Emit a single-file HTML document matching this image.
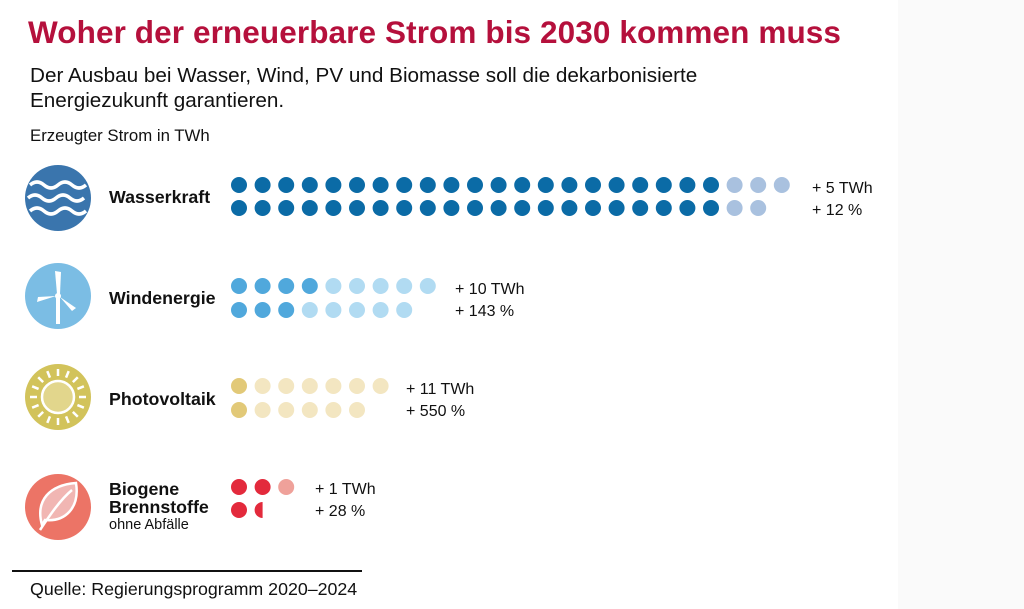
<!DOCTYPE html>
<html><head><meta charset="utf-8"><style>
body{margin:0;width:1024px;height:609px;background:#fff;font-family:"Liberation Sans",Arial,sans-serif;position:relative;overflow:hidden}
.strip{position:absolute;left:898px;top:0;width:126px;height:609px;background:#fafafa}
.t{position:absolute;white-space:nowrap;color:#111}
</style></head><body>
<div class="strip"></div>
<div class="t" style="left:28px;top:14px;font-size:31.5px;font-weight:bold;color:#b5103c;letter-spacing:0.1px">Woher der erneuerbare Strom bis 2030 kommen muss</div>
<div class="t" style="left:30px;top:63px;font-size:20.7px;line-height:25px">Der Ausbau bei Wasser, Wind, PV und Biomasse soll die dekarbonisierte<br>Energiezukunft garantieren.</div>
<div class="t" style="left:30px;top:126px;font-size:16.8px">Erzeugter Strom in TWh</div>
<div class="t" style="left:109px;top:187px;font-size:17.8px;font-weight:bold">Wasserkraft</div>
<div class="t" style="left:109px;top:288px;font-size:17.8px;font-weight:bold">Windenergie</div>
<div class="t" style="left:109px;top:389px;font-size:17.8px;font-weight:bold">Photovoltaik</div>
<div class="t" style="left:109px;top:480px;font-size:17.8px;font-weight:bold;line-height:18px">Biogene<br>Brennstoffe</div>
<div class="t" style="left:109px;top:517px;font-size:14.5px">ohne Abfälle</div>
<div class="t" style="left:812px;top:178px;font-size:16px;line-height:22px">+ 5 TWh<br>+ 12 %</div>
<div class="t" style="left:455px;top:279px;font-size:16px;line-height:22px">+ 10 TWh<br>+ 143 %</div>
<div class="t" style="left:406px;top:379px;font-size:16px;line-height:22px">+ 11 TWh<br>+ 550 %</div>
<div class="t" style="left:315px;top:479px;font-size:16px;line-height:22px">+ 1 TWh<br>+ 28 %</div>
<div style="position:absolute;left:12px;top:570px;width:350px;height:2px;background:#111"></div>
<div class="t" style="left:30px;top:579px;font-size:17.8px">Quelle: Regierungsprogramm 2020–2024</div>
<svg width="1024" height="609" style="position:absolute;left:0;top:0">
<g id="dots"></g>
<circle cx="58" cy="198" r="33" fill="#3a75ad"/>
<g fill="none" stroke="#fff" stroke-width="3.5">
<path d="M30 185 q7 -6 14 0 t14 0 t14 0 t14 0"/>
<path d="M28 198 q7 -6 14 0 t14 0 t14 0 t14 0"/>
<path d="M30 211 q7 -6 14 0 t14 0 t14 0 t14 0"/>
</g>
<circle cx="58" cy="296" r="33" fill="#7bbde4"/>
<g fill="#fff"><rect x="56" y="297" width="4" height="27"/><circle cx="58" cy="296" r="3"/>
<path d="M57 294 L55 271 L61 272 L60 294Z"/><path d="M56 296 L37 302 L38 297Z"/><path d="M60 297 L76 308 L72 311Z"/></g>
<circle cx="58" cy="397" r="33" fill="#d2c35b"/>
<circle cx="58" cy="397" r="16" fill="#e2d68c" stroke="#fff" stroke-width="2.5"/>
<g stroke="#fff" stroke-width="2.5" id="rays"></g>
<circle cx="58" cy="507" r="33" fill="#ec7466"/>
<path d="M42 525 C35 500 50 485 76 483 C80 508 65 522 45 520Z" fill="#f1b6b3" stroke="#fff" stroke-width="2.5"/>
<path d="M40 530 C50 515 60 500 72 490" stroke="#fff" stroke-width="2.5" fill="none"/>
</svg>
<script>
var g=document.getElementById('dots'),s='';
function row(y,x0,n,dk,c1,c2){for(var i=0;i<n;i++){s+='<circle cx="'+(x0+i*23.6)+'" cy="'+y+'" r="8" fill="'+(i<dk?c1:c2)+'"/>';}}
row(185,239,24,21,'#0b6ba6','#a9c1df');row(208,239,23,21,'#0b6ba6','#a9c1df');
row(286,239,9,4,'#50a8dc','#b1dbf2');row(310,239,8,3,'#50a8dc','#b1dbf2');
row(386,239,7,1,'#e2c978','#f3e6c1');row(410,239,6,1,'#e2c978','#f3e6c1');
row(487,239,3,2,'#e32a3c','#efa19a');row(510,239,1,1,'#e32a3c','#e32a3c');
s+='<path d="M262.6 502 A8 8 0 0 0 262.6 518 Z" fill="#e32a3c"/>';
g.innerHTML=s;
var r='';for(var k=0;k<16;k++){var a=k*Math.PI/8,c=Math.cos(a),d=Math.sin(a);r+='<line x1="'+(58+c*21)+'" y1="'+(397+d*21)+'" x2="'+(58+c*28)+'" y2="'+(397+d*28)+'"/>';}
document.getElementById('rays').innerHTML=r;
</script>
</body></html>
